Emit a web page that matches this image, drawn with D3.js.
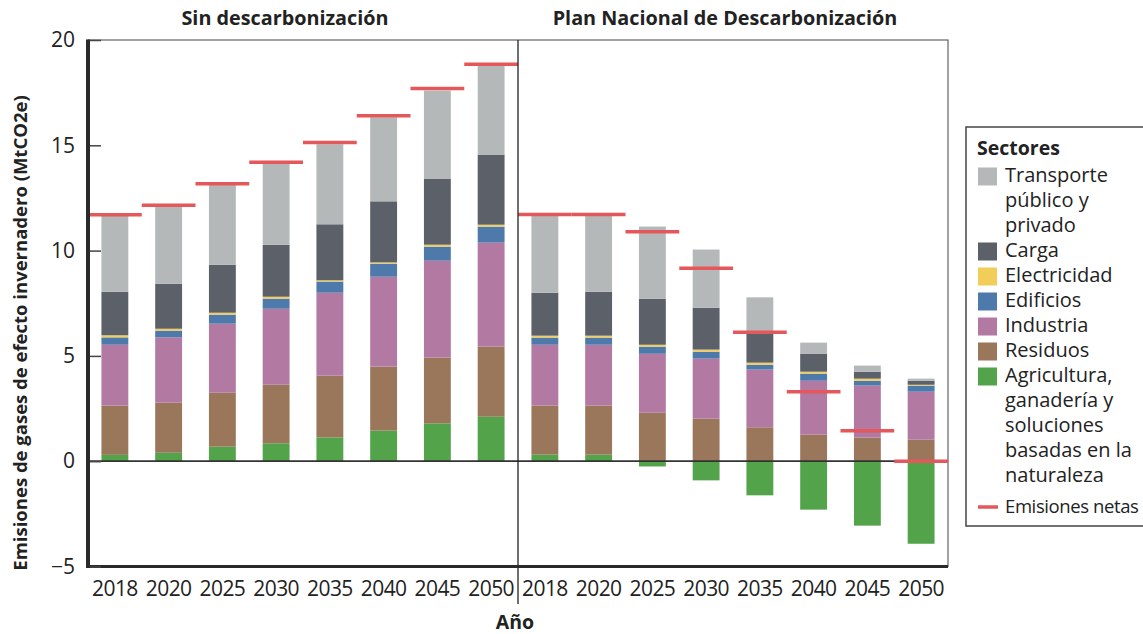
<!DOCTYPE html>
<html>
<head>
<meta charset="utf-8">
<script src="https://cdn.jsdelivr.net/npm/d3@7"></script>
<style>
  body { margin: 0; background: #fff; }
  text { font-family: "Open Sans", sans-serif; fill: #222; }
</style>
</head>
<body>
<script>
const years = ["2018", "2020", "2025", "2030", "2035", "2040", "2045", "2050"];
const sectors = ["agricultura", "residuos", "industria", "edificios", "electricidad", "carga", "transporte"];
const sectorColors = ["#53a34b", "#9a775b", "#b279a2", "#4e79ab", "#f3cd5a", "#5c6069", "#b5b8b9"];
const legendLabels = [
  ["Transporte", "público y", "privado"],
  ["Carga"],
  ["Electricidad"],
  ["Edificios"],
  ["Industria"],
  ["Residuos"],
  ["Agricultura,", "ganadería y", "soluciones", "basadas en la", "naturaleza"]
];
const legendOrder = ["transporte", "carga", "electricidad", "edificios", "industria", "residuos", "agricultura"];

// Sin descarbonización (MtCO2e)
const sinAgricultura  = [0.30, 0.40, 0.69, 0.85, 1.13, 1.45, 1.80, 2.11];
const sinResiduos     = [2.34, 2.38, 2.56, 2.78, 2.93, 3.04, 3.12, 3.33];
const sinIndustria    = [2.89, 3.10, 3.28, 3.61, 3.94, 4.27, 4.60, 4.94];
const sinEdificios    = [0.35, 0.32, 0.43, 0.48, 0.53, 0.62, 0.67, 0.76];
const sinElectricidad = [0.10, 0.09, 0.09, 0.09, 0.06, 0.06, 0.09, 0.09];
const sinCarga        = [2.07, 2.14, 2.28, 2.47, 2.66, 2.90, 3.14, 3.33];
const sinTransporte   = [3.60, 3.67, 3.80, 3.85, 3.80, 3.99, 4.18, 4.23];
const sinNetas        = [11.70, 12.15, 13.18, 14.20, 15.13, 16.40, 17.70, 18.85];

// Plan Nacional de Descarbonización (MtCO2e)
const planAgricultura  = [0.31, 0.31, -0.25, -0.91, -1.62, -2.30, -3.06, -3.92];
const planResiduos     = [2.33, 2.33, 2.30, 2.02, 1.61, 1.26, 1.12, 1.02];
const planIndustria    = [2.89, 2.89, 2.80, 2.85, 2.74, 2.56, 2.47, 2.28];
const planEdificios    = [0.34, 0.34, 0.34, 0.33, 0.23, 0.34, 0.23, 0.29];
const planElectricidad = [0.09, 0.09, 0.09, 0.10, 0.10, 0.09, 0.10, 0.04];
const planCarga        = [2.04, 2.09, 2.19, 1.99, 1.42, 0.86, 0.33, 0.19];
const planTransporte   = [3.66, 3.61, 3.42, 2.76, 1.68, 0.52, 0.29, 0.10];
const planNetas        = [11.72, 11.72, 10.89, 9.16, 6.12, 3.30, 1.45, 0.00];

const width = 1143, height = 634;
const plotLeft = 88, plotMid = 518, plotRight = 948, plotTop = 40, plotBottom = 566.5;

const svg = d3.select("body").append("svg")
  .attr("width", width)
  .attr("height", height);

const y = d3.scaleLinear().domain([-5, 20]).range([plotBottom, plotTop]);
const color = d3.scaleOrdinal().domain(sectors).range(sectorColors);

function rows(series) {
  return years.map((yr, i) => {
    const r = { year: yr };
    sectors.forEach((s, k) => { r[s] = series[k][i]; });
    return r;
  });
}

const stack = d3.stack().keys(sectors).offset(d3.stackOffsetDiverging);

const panels = [
  { title: "Sin descarbonización", x0: plotLeft, x1: plotMid, titleX: 285,
    data: rows([sinAgricultura, sinResiduos, sinIndustria, sinEdificios, sinElectricidad, sinCarga, sinTransporte]),
    netas: sinNetas },
  { title: "Plan Nacional de Descarbonización", x0: plotMid, x1: plotRight, titleX: 725,
    data: rows([planAgricultura, planResiduos, planIndustria, planEdificios, planElectricidad, planCarga, planTransporte]),
    netas: planNetas }
];

// frame
svg.append("rect")
  .attr("x", plotLeft).attr("y", plotTop)
  .attr("width", plotRight - plotLeft).attr("height", plotBottom - plotTop)
  .attr("fill", "none").attr("stroke", "#444").attr("stroke-width", 1);

panels.forEach(p => {
  const x = d3.scaleBand().domain(years).range([p.x0, p.x1])
    .paddingInner(0.5).paddingOuter(0.25);
  const g = svg.append("g");

  g.selectAll("g.layer")
    .data(stack(p.data))
    .join("g")
    .attr("class", "layer")
    .attr("fill", d => color(d.key))
    .selectAll("rect")
    .data(d => d)
    .join("rect")
    .attr("x", d => x(d.data.year))
    .attr("width", x.bandwidth())
    .attr("y", d => y(Math.max(d[0], d[1])))
    .attr("height", d => Math.abs(y(d[0]) - y(d[1])));

  // zero line
  g.append("line")
    .attr("x1", p.x0).attr("x2", p.x1)
    .attr("y1", y(0)).attr("y2", y(0))
    .attr("stroke", "#333").attr("stroke-width", 1.8);

  // emisiones netas
  const ext = x.step() * x.paddingOuter();
  g.selectAll("line.net")
    .data(p.netas)
    .join("line")
    .attr("class", "net")
    .attr("x1", (d, i) => x(years[i]) - ext)
    .attr("x2", (d, i) => x(years[i]) + x.bandwidth() + ext)
    .attr("y1", d => y(d)).attr("y2", d => y(d))
    .attr("stroke", "#e4575a").attr("stroke-width", 3.5);

  // year axis
  svg.append("g")
    .attr("transform", `translate(0,${plotBottom})`)
    .call(d3.axisBottom(x).tickSize(0).tickPadding(15))
    .call(a => a.select(".domain").remove())
    .selectAll("text")
    .style("font-family", "'Open Sans', sans-serif")
    .style("font-size", "21px")
    .style("letter-spacing", "-0.6px")
    .attr("fill", "#222");

  svg.append("text")
    .attr("x", p.titleX).attr("y", 25)
    .attr("text-anchor", "middle")
    .attr("font-weight", "bold")
    .attr("font-size", "19.8px")
    .text(p.title);
});

// panel divider
svg.append("line")
  .attr("x1", plotMid).attr("x2", plotMid)
  .attr("y1", plotTop).attr("y2", 604)
  .attr("stroke", "#222").attr("stroke-width", 1.3);

// bottom axis line
svg.append("line")
  .attr("x1", plotLeft - 2).attr("x2", plotRight)
  .attr("y1", plotBottom).attr("y2", plotBottom)
  .attr("stroke", "#2a2a2a").attr("stroke-width", 3);

// y axis
const yAxis = svg.append("g")
  .attr("transform", `translate(${plotLeft},0)`)
  .call(d3.axisLeft(y).tickValues([-5, 0, 5, 10, 15, 20]).tickSizeInner(-13).tickSizeOuter(0).tickPadding(13));
yAxis.select(".domain").remove();
yAxis.selectAll(".tick line").attr("stroke", "#444").attr("stroke-width", 1.5);
yAxis.selectAll("text")
  .style("font-family", "'Open Sans', sans-serif")
  .style("font-size", "21px")
  .attr("fill", "#222");

svg.append("line")
  .attr("x1", plotLeft).attr("x2", plotLeft)
  .attr("y1", plotTop - 0.5).attr("y2", plotBottom + 1.5)
  .attr("stroke", "#2a2a2a").attr("stroke-width", 4);

// axis titles
svg.append("text")
  .attr("transform", "translate(27,333) rotate(-90)")
  .attr("text-anchor", "middle")
  .attr("font-weight", "bold")
  .attr("font-size", "18.5px")
  .text("Emisiones de gases de efecto invernadero (MtCO2e)");

svg.append("text")
  .attr("x", 515).attr("y", 629)
  .attr("text-anchor", "middle")
  .attr("font-weight", "bold")
  .attr("font-size", "19.5px")
  .text("Año");

// legend
const lg = svg.append("g");
lg.append("rect")
  .attr("x", 966).attr("y", 127)
  .attr("width", 200).attr("height", 399)
  .attr("fill", "#fff").attr("stroke", "#444").attr("stroke-width", 1.5);

lg.append("text")
  .attr("x", 977).attr("y", 155)
  .attr("font-weight", "bold")
  .attr("font-size", "19.5px")
  .text("Sectores");

const lineH = 25;
let lineIdx = 0;
legendOrder.forEach((key, i) => {
  const base = 182 + lineIdx * lineH;
  lg.append("rect")
    .attr("x", 978).attr("y", base - 14.5)
    .attr("width", 19).attr("height", 18)
    .attr("fill", color(key));
  const t = lg.append("text")
    .attr("x", 1005).attr("y", base)
    .attr("font-size", "20px");
  legendLabels[i].forEach((l, j) => {
    t.append("tspan").attr("x", 1005).attr("dy", j === 0 ? 0 : lineH).text(l);
  });
  lineIdx += legendLabels[i].length;
});

const netBase = 182 + lineIdx * lineH + 6;
lg.append("line")
  .attr("x1", 978).attr("x2", 998)
  .attr("y1", netBase - 6).attr("y2", netBase - 6)
  .attr("stroke", "#e4575a").attr("stroke-width", 3.5);
lg.append("text")
  .attr("x", 1005).attr("y", netBase)
  .attr("font-size", "18.5px")
  .attr("letter-spacing", "-0.4px")
  .text("Emisiones netas");
</script>
</body>
</html>
